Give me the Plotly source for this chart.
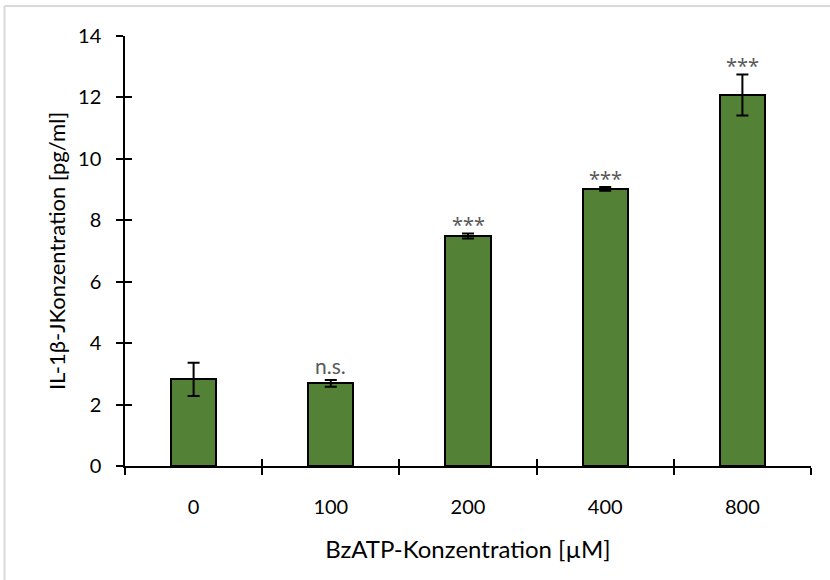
import plotly.graph_objects as go

# BzATP dose response: IL-1β release
categories = ["0", "100", "200", "400", "800"]
il1b_mean = [2.82, 2.69, 7.49, 9.02, 12.08]
il1b_err = [0.54, 0.11, 0.08, 0.06, 0.67]
significance = ["", "n.s.", "***", "***", "***"]
y_ticks = [0, 2, 4, 6, 8, 10, 12, 14]

FONT = "Lato"
BAR_COLOR = "#538135"
x_pos = list(range(len(categories)))
boundaries = [i - 0.5 for i in range(len(categories) + 1)]

fig = go.Figure()

fig.add_trace(go.Bar(
    x=x_pos, y=il1b_mean, width=0.33,
    marker=dict(color=BAR_COLOR, line=dict(color="black", width=2)),
    showlegend=False, hoverinfo="skip",
))

# error bars drawn on the overlay axes (same ranges as the main ones)
fig.add_trace(go.Scatter(
    x=x_pos, y=il1b_mean, mode="markers",
    marker=dict(size=0.1, color="rgba(0,0,0,0)"),
    error_y=dict(type="data", array=il1b_err, visible=True,
                 color="black", thickness=2, width=6),
    xaxis="x2", yaxis="y2", showlegend=False, hoverinfo="skip",
))

for xi, m, e, s in zip(x_pos, il1b_mean, il1b_err, significance):
    if not s:
        continue
    if s == "n.s.":
        font = dict(family=FONT, size=21, color="#595959")
        shift = 0
    else:
        font = dict(family="Noto Sans", size=20, color="#595959")
        shift = -7
    fig.add_annotation(x=xi, y=m + e, text=s, showarrow=False,
                       yanchor="bottom", yshift=shift, font=font)

x_range = [-0.5, len(categories) - 0.5]
y_range = [0, 14]
tick_len = 7

fig.update_layout(
    width=830, height=580,
    margin=dict(l=125, r=19, t=36, b=114),
    paper_bgcolor="white", plot_bgcolor="white",
    font=dict(family=FONT, size=20, color="black"),
    bargap=0,
    xaxis=dict(
        range=x_range, tickmode="array", tickvals=x_pos, ticktext=categories,
        ticks="", ticklabelstandoff=22, showgrid=False, zeroline=False,
        showline=True, linecolor="black", linewidth=1.5,
        minor=dict(tickmode="array", tickvals=boundaries, ticks="outside",
                   ticklen=tick_len, tickwidth=1.5, tickcolor="black", showgrid=False),
        tickfont=dict(size=20),
        title=dict(text="BzATP-Konzentration [µM]", font=dict(size=24), standoff=24),
    ),
    xaxis2=dict(
        range=x_range, overlaying="x", anchor="y2",
        tickmode="array", tickvals=boundaries, ticks="inside",
        ticklen=tick_len, tickwidth=1.5, tickcolor="black",
        showticklabels=False, showgrid=False, zeroline=False, showline=False,
    ),
    yaxis=dict(
        range=y_range, tickmode="array", tickvals=y_ticks,
        ticks="outside", ticklen=tick_len, tickwidth=1.5, tickcolor="black",
        ticklabelstandoff=11,
        showgrid=False, zeroline=False,
        showline=True, linecolor="black", linewidth=1.5,
        tickfont=dict(size=20),
        title=dict(text="IL-1β-JKonzentration [pg/ml]", font=dict(size=22), standoff=6),
    ),
    yaxis2=dict(
        range=y_range, overlaying="y", anchor="x2", side="left",
        tickmode="array", tickvals=y_ticks, ticks="inside",
        ticklen=tick_len, tickwidth=1.5, tickcolor="black",
        showticklabels=False, showgrid=False, zeroline=False, showline=False,
    ),
)

# light frame of the chart area: top and left edges
px_x = lambda p: (p - 125) / 686
px_y = lambda p: (466 - p) / 430
frame = dict(type="line", xref="paper", yref="paper",
             line=dict(color="#d9d9d9", width=2), layer="below")
fig.add_shape(x0=px_x(4.5), x1=px_x(830), y0=px_y(6), y1=px_y(6), **frame)
fig.add_shape(x0=px_x(4.5), x1=px_x(4.5), y0=px_y(6), y1=px_y(580), **frame)

fig.write_html("out.html")
